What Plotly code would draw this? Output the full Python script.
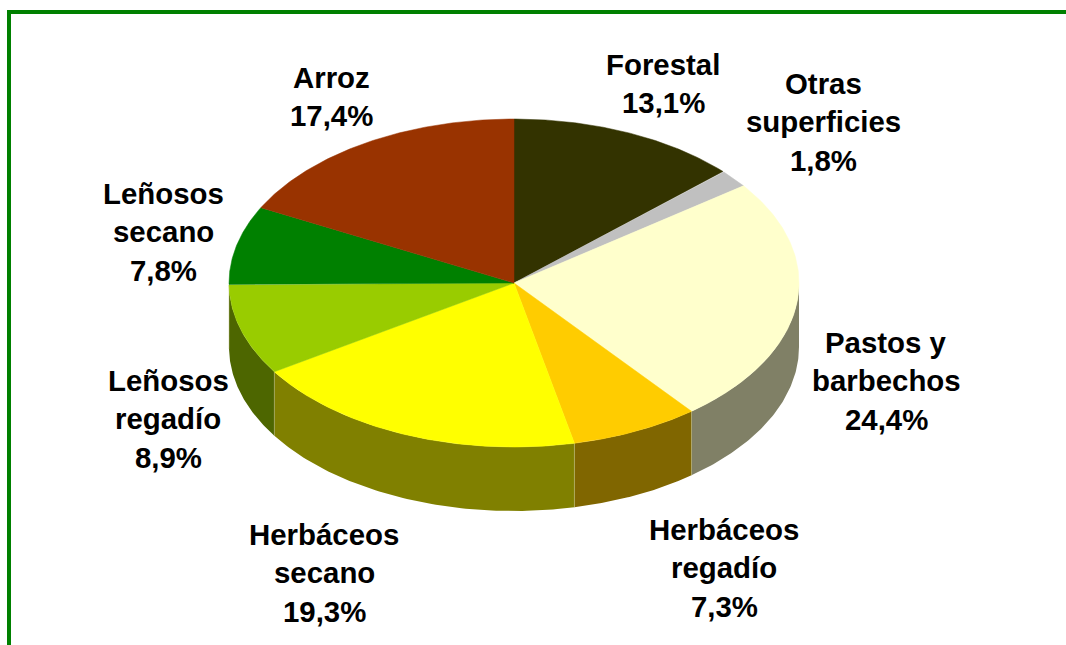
import numpy as np
import plotly.graph_objects as go

# Data
categories = ["Forestal", "Otras<br>superficies", "Pastos y<br>barbechos", "Herbáceos<br>regadío",
              "Herbáceos<br>secano", "Leñosos<br>regadío", "Leñosos<br>secano", "Arroz"]
values = [13.1, 1.8, 24.4, 7.3, 19.3, 8.9, 7.8, 17.4]
top_colors = ["#333300", "#C0C0C0", "#FFFFCC", "#FFCC00", "#FFFF00", "#99CC00", "#008000", "#993300"]
side_colors = ["#1A1A00", "#606060", "#808066", "#806600", "#808000", "#4D6600", "#004000", "#4D1A00"]

# Layout of the drawing (pixel-like axis units)
W, H = 1066, 645
CX, CY, RX, RY, DEPTH = 514, 283, 285, 164, 64
FRAME = "#008000"
label_pos = [(663, 64), (823, 83), (886, 342), (724, 529), (324, 534), (168, 380), (163, 193), (331, 77)]
LINE_STEP = 38.8
FONT_SIZE = 29.4


def ex(a):
    return CX + RX * np.sin(np.radians(a))


def ey(a, dy=0):
    return CY - RY * np.cos(np.radians(a)) + dy


fig = go.Figure()
cum = np.concatenate([[0], np.cumsum(values)]) / sum(values) * 360

# Sides (only the front half of the rim is visible: 90 to 270 degrees)
for i in range(len(values)):
    a0, a1 = max(cum[i], 90), min(cum[i + 1], 270)
    if a1 <= a0:
        continue
    t = np.linspace(a0, a1, 80)
    xs = np.concatenate([ex(t), ex(t[::-1])])
    ys = np.concatenate([ey(t), ey(t[::-1], DEPTH)])
    fig.add_trace(go.Scatter(x=xs, y=ys, mode="lines", fill="toself", fillcolor=side_colors[i],
                             line=dict(width=0, color=side_colors[i]), hoverinfo="skip", showlegend=False))

# Pale seams between side panels
for a in cum[1:]:
    if 90 < a < 270:
        fig.add_trace(go.Scatter(x=[ex(a), ex(a)], y=[ey(a), ey(a, DEPTH)], mode="lines",
                                 line=dict(width=1, color="rgba(190,190,130,0.45)"),
                                 hoverinfo="skip", showlegend=False))

# Top faces
for i in range(len(values)):
    t = np.linspace(cum[i], cum[i + 1], 120)
    xs = np.concatenate([[CX], ex(t), [CX]])
    ys = np.concatenate([[CY], ey(t), [CY]])
    fig.add_trace(go.Scatter(x=xs, y=ys, mode="lines", fill="toself", fillcolor=top_colors[i],
                             line=dict(width=0.5, color=top_colors[i]),
                             text=f"{categories[i].replace('<br>', ' ')}: {values[i]:.1f}%".replace(".", ","),
                             hoverinfo="text", showlegend=False))

# Labels, one annotation per line to hold the original line spacing
annotations = []
for name, v, (lx, ly) in zip(categories, values, label_pos):
    lines = name.split("<br>") + [f"{v:.1f}%".replace(".", ",")]
    for k, line in enumerate(lines):
        annotations.append(dict(x=lx, y=ly + k * LINE_STEP, xref="x", yref="y", text=f"<b>{line}</b>",
                                showarrow=False, xanchor="center", yanchor="middle",
                                font=dict(family="Liberation Sans, Arial, sans-serif", size=FONT_SIZE, color="#000000")))

fig.update_layout(
    width=W, height=H, margin=dict(l=0, r=0, t=0, b=0),
    paper_bgcolor="white", plot_bgcolor="white",
    xaxis=dict(range=[0, W], visible=False, fixedrange=True),
    yaxis=dict(range=[H, 0], visible=False, fixedrange=True),
    annotations=annotations,
    shapes=[
        dict(type="rect", xref="x", yref="y", x0=7, x1=W, y0=10, y1=14, fillcolor=FRAME, line_width=0),
        dict(type="rect", xref="x", yref="y", x0=7, x1=11, y0=10, y1=H, fillcolor=FRAME, line_width=0),
    ],
)
fig.write_html("out.html", config={"displayModeBar": False},
               post_script="document.body.style.margin='0';")
